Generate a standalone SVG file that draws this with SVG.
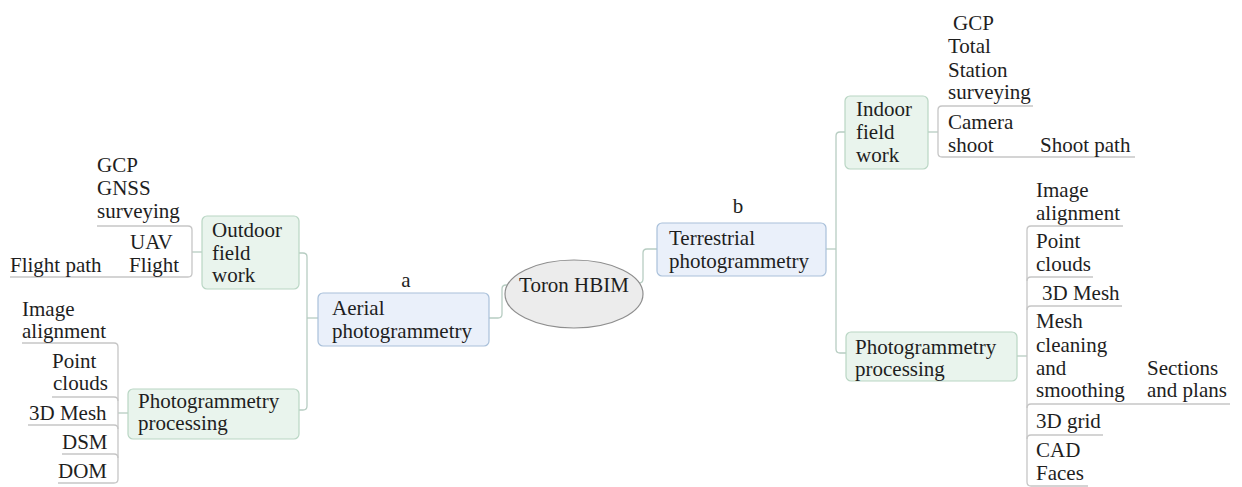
<svg xmlns="http://www.w3.org/2000/svg" width="1242" height="487" viewBox="0 0 1242 487" font-family="Liberation Serif, serif">
  <style>
    text { font-size: 21px; fill: #1e1e1e; }
    .lbl { text-anchor: middle; }
    .green { fill: #e9f4ed; stroke: #b9d6c4; stroke-width: 1.2; }
    .blue { fill: #eaf0fa; stroke: #a9c0da; stroke-width: 1.2; }
    .root { fill: #ececec; stroke: #8e8e8e; stroke-width: 1.2; }
    .link { fill: none; stroke: #b7cdc2; stroke-width: 1.3; }
    .leaf { fill: none; stroke: #c6c6c6; stroke-width: 1.3; }
  </style>
  <rect width="1242" height="487" fill="#ffffff"/>

  <g id="connectors">
    <!-- root to main branches -->
    <path class="link" d="M489,318 H498 Q502,318 502,314 V289 Q502,285 506,285 H508"/>
    <path class="link" d="M639,283 Q643,283 643,279 V253 Q643,249 647,249 H657"/>
    <!-- aerial branch -->
    <path class="link" d="M299,253 H303 Q307,253 307,257 V406 Q307,410 303,410 H299"/>
    <path class="link" d="M307,318 H318"/>
    <!-- terrestrial branch -->
    <path class="link" d="M826,249 H836"/>
    <path class="link" d="M845,132 H840 Q836,132 836,136 V349 Q836,353 840,353 H846"/>
    <!-- outdoor field work leaves -->
    <path class="link" d="M202,252 H192"/>
    <path class="leaf" d="M97,226 H188 Q192,226 192,230 V273 Q192,277 188,277 H10"/>
    <!-- left processing leaves -->
    <path class="link" d="M128,413 H118"/>
    <path class="leaf" d="M22,343 H114 Q118,343 118,347 V479 Q118,483 114,483 H58"/>
    <path class="leaf" d="M118,401 Q118,397 114,397 H52"/>
    <path class="leaf" d="M118,429 Q118,425 114,425 H28"/>
    <path class="leaf" d="M118,458 Q118,454 114,454 H62"/>
    <!-- indoor field work leaves -->
    <path class="link" d="M928,132 H938"/>
    <path class="leaf" d="M1033,106 H942 Q938,106 938,110 V153 Q938,157 942,157 H1135"/>
    <!-- right processing leaves -->
    <path class="link" d="M1017,356 H1027"/>
    <path class="leaf" d="M1123,226 H1031 Q1027,226 1027,230 V482 Q1027,486 1031,486 H1088"/>
    <path class="leaf" d="M1027,281 Q1027,277 1031,277 H1093"/>
    <path class="leaf" d="M1027,310 Q1027,306 1031,306 H1122"/>
    <path class="leaf" d="M1027,408 Q1027,404 1031,404 H1230"/>
    <path class="leaf" d="M1027,439 Q1027,435 1031,435 H1103"/>
  </g>

  <g id="root">
    <ellipse class="root" cx="574" cy="294" rx="69" ry="34"/>
    <text x="574" y="292" class="lbl">Toron HBIM</text>
  </g>

  <g id="aerial">
    <rect class="blue" x="318" y="293" width="171" height="53" rx="5"/>
    <text x="332" y="315">Aerial</text>
    <text x="332" y="338">photogrammetry</text>
    <text x="406" y="287" class="lbl">a</text>
  </g>

  <g id="terrestrial">
    <rect class="blue" x="657" y="223" width="169" height="53" rx="5"/>
    <text x="669" y="245">Terrestrial</text>
    <text x="669" y="268">photogrammetry</text>
    <text x="738" y="213" class="lbl">b</text>
  </g>

  <g id="outdoor">
    <rect class="green" x="202" y="216" width="97" height="73" rx="5"/>
    <text x="212" y="237">Outdoor</text>
    <text x="212" y="260">field</text>
    <text x="212" y="282">work</text>
  </g>

  <g id="outdoor-leaves">
    <text x="97" y="172">GCP</text>
    <text x="97" y="195">GNSS</text>
    <text x="97" y="218">surveying</text>
    <text x="130" y="249">UAV</text>
    <text x="129" y="272">Flight</text>
    <text x="10" y="272">Flight path</text>
  </g>

  <g id="aerial-processing">
    <rect class="green" x="128" y="389" width="171" height="50" rx="5"/>
    <text x="138" y="408">Photogrammetry</text>
    <text x="138" y="430">processing</text>
  </g>

  <g id="aerial-processing-leaves">
    <text x="22" y="316">Image</text>
    <text x="22" y="338">alignment</text>
    <text x="52" y="368">Point</text>
    <text x="53" y="390">clouds</text>
    <text x="29" y="420">3D Mesh</text>
    <text x="62" y="449">DSM</text>
    <text x="58" y="478">DOM</text>
  </g>

  <g id="indoor">
    <rect class="green" x="845" y="96" width="83" height="73" rx="5"/>
    <text x="856" y="116">Indoor</text>
    <text x="856" y="139">field</text>
    <text x="856" y="162">work</text>
  </g>

  <g id="indoor-leaves">
    <text x="953" y="30">GCP</text>
    <text x="948" y="53">Total</text>
    <text x="948" y="77">Station</text>
    <text x="948" y="99">surveying</text>
    <text x="948" y="129">Camera</text>
    <text x="948" y="152">shoot</text>
    <text x="1040" y="152">Shoot path</text>
  </g>

  <g id="terrestrial-processing">
    <rect class="green" x="846" y="332" width="171" height="49" rx="5"/>
    <text x="855" y="354">Photogrammetry</text>
    <text x="855" y="376">processing</text>
  </g>

  <g id="terrestrial-processing-leaves">
    <text x="1036" y="197">Image</text>
    <text x="1036" y="220">alignment</text>
    <text x="1036" y="248">Point</text>
    <text x="1036" y="271">clouds</text>
    <text x="1042" y="300">3D Mesh</text>
    <text x="1036" y="328">Mesh</text>
    <text x="1036" y="352">cleaning</text>
    <text x="1036" y="375">and</text>
    <text x="1036" y="397">smoothing</text>
    <text x="1147" y="375">Sections</text>
    <text x="1147" y="397">and plans</text>
    <text x="1036" y="428">3D grid</text>
    <text x="1036" y="457">CAD</text>
    <text x="1036" y="480">Faces</text>
  </g>
</svg>
